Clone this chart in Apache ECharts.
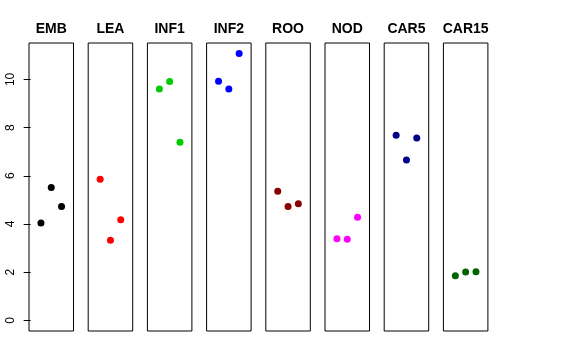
<!DOCTYPE html>
<html><head><meta charset="utf-8">
<script src="https://cdn.jsdelivr.net/npm/echarts@6/dist/echarts.min.js"></script>
<style>html,body{margin:0;padding:0;background:#fff}#c{width:576px;height:360px}</style>
</head><body><div id="c"></div>
<script>
var categories = ["EMB","LEA","INF1","INF2","ROO","NOD","CAR5","CAR15"];
var replicate = [1, 2, 3];
var EMB   = [4.04, 5.51, 4.72];
var LEA   = [5.86, 3.32, 4.17];
var INF1  = [9.60, 9.91, 7.39];
var INF2  = [9.92, 9.60, 11.07];
var ROO   = [5.36, 4.72, 4.84];
var NOD   = [3.39, 3.36, 4.28];
var CAR5  = [7.68, 6.65, 7.57];
var CAR15 = [1.85, 2.01, 2.02];
var yTicks = [0, 2, 4, 6, 8, 10];
var colors = ["#000000","#FF0000","#00CD00","#0000FF","#8B0000","#FF00FF","#00008B","#006400"];

(function(){
var values = [EMB, LEA, INF1, INF2, ROO, NOD, CAR5, CAR15];
var chart = echarts.init(document.getElementById('c'), null, {renderer:'canvas'});
var left0 = 29, step = 59.2, w = 44.5, gTop = 43, gH = 288;
var yMin = -0.443, yMax = 11.51;
var grids = [], xAxes = [], yAxes = [], series = [], graphics = [];
categories.forEach(function(cat, i){
  var l = left0 + i*step;
  grids.push({left: l, top: gTop, width: w, height: gH, show: true, borderColor: '#000', borderWidth: 1, backgroundColor: 'transparent'});
  xAxes.push({type: 'value', gridIndex: i, min: -0.16, max: 4.16, show: false});
  var first = (i === 0);
  yAxes.push({type: 'value', gridIndex: i, min: yMin, max: yMax, show: first,
    axisLine: {show: false},
    splitLine: {show: false},
    axisTick: {show: first, length: 7, lineStyle: {color: '#000'}, customValues: yTicks},
    axisLabel: {show: first, customValues: yTicks, rotate: 90, margin: 12, color: '#000', fontSize: 12, fontFamily: 'Liberation Sans, Arial, sans-serif'}
  });
  series.push({type: 'scatter', xAxisIndex: i, yAxisIndex: i, symbol: 'circle', symbolSize: 7,
    itemStyle: {color: colors[i], opacity: 1}, silent: true,
    data: values[i].map(function(v, j){ return [replicate[j], v]; })});
  graphics.push({type: 'text', x: l + w/2, y: 29.5, silent: true,
    style: {text: cat, align: 'center', verticalAlign: 'middle', fill: '#000',
      font: 'bold 14px "Liberation Sans", Arial, sans-serif'}});
});
chart.setOption({animation: false, graphic: graphics, grid: grids, xAxis: xAxes, yAxis: yAxes, series: series});
})();
</script></body></html>
